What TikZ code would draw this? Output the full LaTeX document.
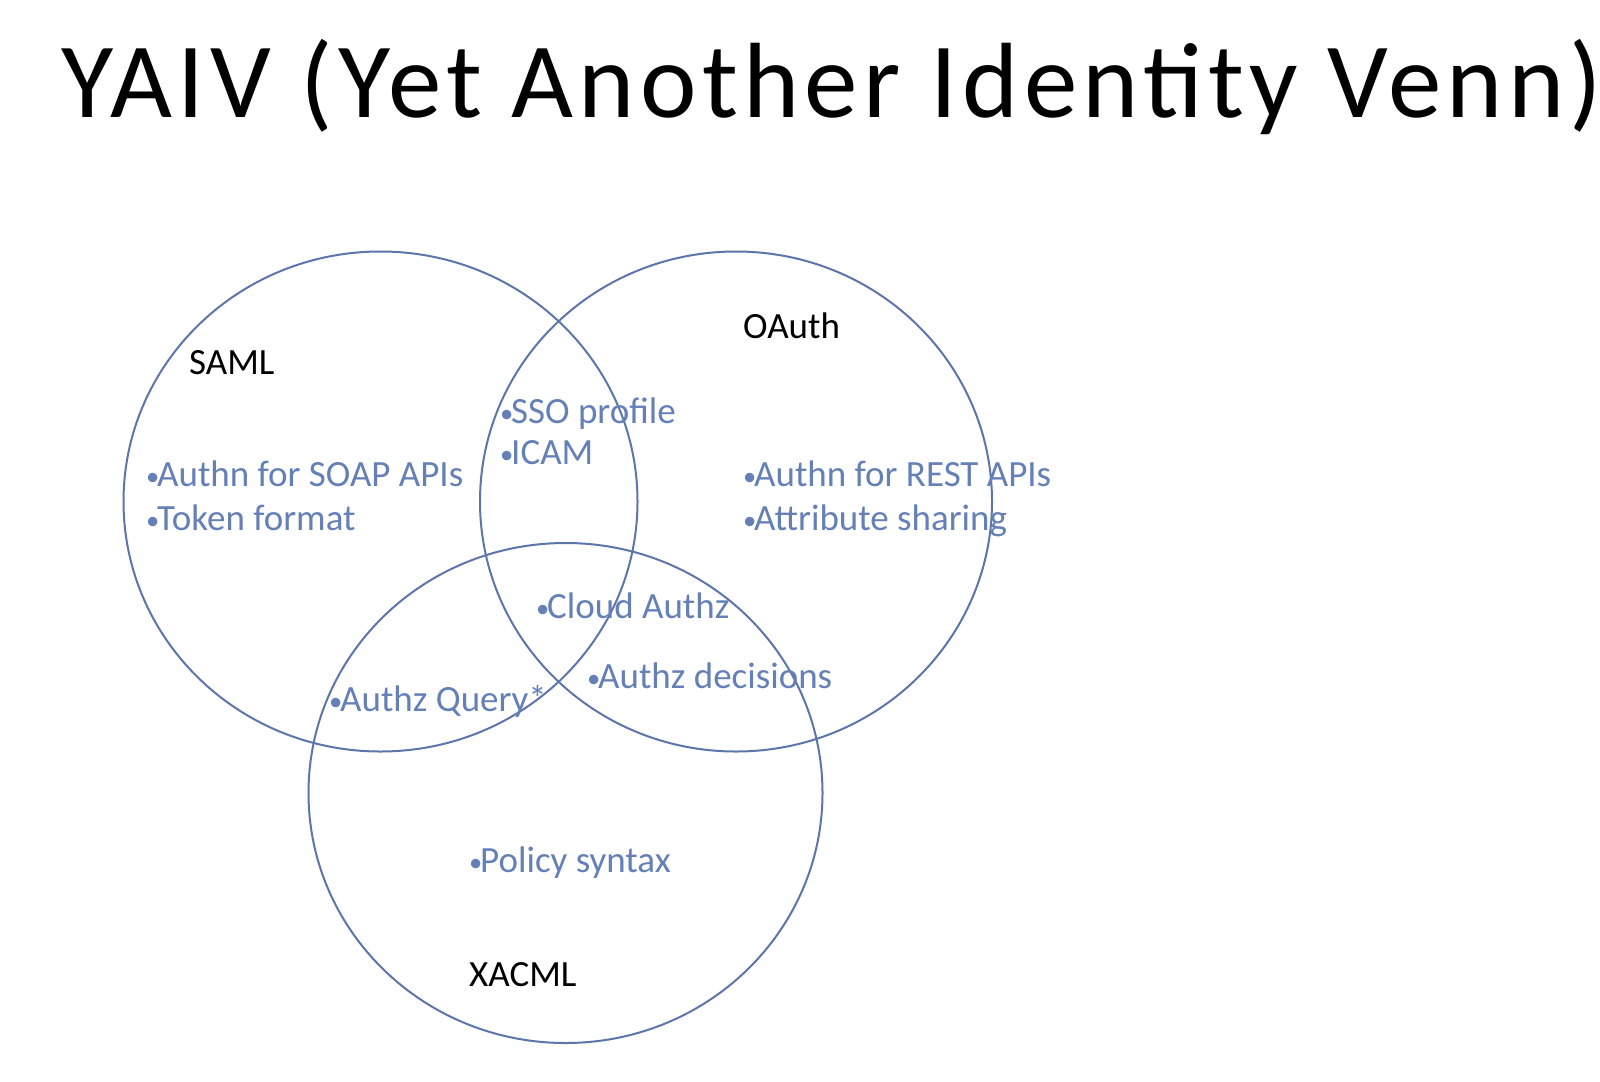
\documentclass[tikz,border=0pt]{standalone}
\usepackage{fontspec}
\setmainfont{Carlito}
\newfontfamily\titlefont[LetterSpace=5]{Carlito}
\definecolor{vennline}{RGB}{92,118,172}
\definecolor{itemblue}{RGB}{100,128,182}
\newcommand{\bul}{\makebox[11pt][l]{\raisebox{0.5pt}{\scalebox{0.72}{•}}}}
\begin{document}
\begin{tikzpicture}[x=1pt,y=-1pt,
  setline/.style={draw=vennline, line width=2pt},
  lbl/.style={anchor=base west, inner sep=0pt, font=\fontsize{37}{44}\selectfont, text=black},
  itm/.style={anchor=base west, inner sep=0pt, font=\fontsize{37}{44}\selectfont, text=itemblue},
  ttl/.style={anchor=base west, inner sep=0pt, font=\titlefont\fontsize{107}{120}\selectfont, text=black}]
\useasboundingbox (0,0) rectangle (1600,1081);
\fill[white] (0,0) rectangle (1600,1081);
% sets
\draw[setline] (380.5,501.5) ellipse [x radius=257, y radius=250];
\draw[setline] (736,501.5) ellipse [x radius=256, y radius=250];
\draw[setline] (565.5,793) ellipse [x radius=257, y radius=250];
% title
\node[ttl] (title) at (61,117) {YAIV (Yet Another Identity Venn)};
% labels
\node[lbl] (saml) at (189,374) {SAML};
\node[lbl] (oauth) at (743,338) {OAuth};
\node[lbl] (xacml) at (469,986) {XACML};
% items
\node[itm] (sso) at (500,423) {\bul SSO profile};
\node[itm] (icam) at (500,464) {\bul ICAM};
\node[itm] (soap) at (146,486) {\bul Authn for SOAP APIs};
\node[itm] (token) at (146,530) {\bul Token format};
\node[itm] (rest) at (743,486) {\bul Authn for REST APIs};
\node[itm] (attr) at (743,530) {\bul Attribute sharing};
\node[itm] (cloud) at (536,618) {\bul Cloud Authz};
\node[itm] (dec) at (587,688) {\bul Authz decisions};
\node[itm] (query) at (329,711) {\bul Authz Query*};
\node[itm] (policy) at (469,872) {\bul Policy syntax};
\end{tikzpicture}
\end{document}
